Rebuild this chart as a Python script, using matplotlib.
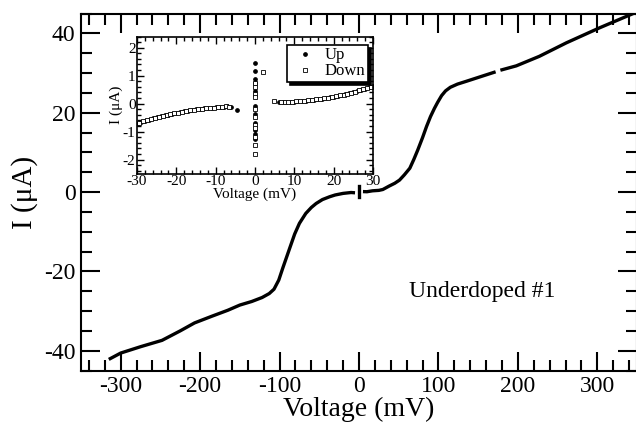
import matplotlib
matplotlib.use("Agg")
import matplotlib.pyplot as plt
from matplotlib.ticker import MultipleLocator
import numpy as np

plt.rcParams['font.family'] = ['Liberation Serif', 'DejaVu Serif']
plt.rcParams['axes.unicode_minus'] = False

# main I-V curve (mV, uA)
v_neg = [-315, -300, -275, -248, -225, -207, -185, -165, -150, -135, -122, -113, -107,
         -101, -96, -88, -81, -75, -67, -60, -54, -46, -37, -30, -20, -10, -5]
i_neg = [-42.2, -40.6, -39.0, -37.4, -35.0, -33.0, -31.3, -29.8, -28.5, -27.6, -26.6, -25.6, -24.5,
         -22.2, -19.2, -14.6, -10.6, -7.9, -5.4, -3.9, -2.9, -1.9, -1.2, -0.75, -0.35, -0.13, -0.2]
v_pos = [5, 10, 17, 25, 30, 38, 45, 51, 57, 64, 69, 74, 80, 85, 90, 95, 99,
         104, 109, 115, 124, 135, 155, 172, np.nan, 178, 198, 227, 261, 303, 350]
i_pos = [0.1, 0.07, 0.3, 0.41, 0.63, 1.5, 2.2, 3.0, 4.3, 6.0, 8.2, 10.6, 13.7, 16.5, 19.0, 21.1, 22.6,
         24.3, 25.5, 26.4, 27.2, 27.9, 29.2, 30.3, np.nan, 30.7, 31.8, 34.2, 37.6, 41.4, 45.4]

# inset data (zoom around zero bias)
up_v_neg = [-30, -29, -28, -27, -26, -25, -24, -23, -22, -21, -20, -19, -18, -17, -16,
            -15, -14, -13, -12, -11, -10, -9, -8, -7, -6, -4.6]
up_i_neg = [-0.72, -0.66, -0.61, -0.57, -0.52, -0.48, -0.45, -0.42, -0.39, -0.36, -0.33,
            -0.31, -0.28, -0.26, -0.23, -0.21, -0.19, -0.17, -0.16, -0.14, -0.13, -0.12,
            -0.11, -0.10, -0.12, -0.22]
dn_v_neg = [-29.5, -28.5, -27.5, -26.5, -25.5, -24.5, -23.5, -22.5, -21.5, -20.5, -19.5,
            -18.5, -17.5, -16.5, -15.5, -14.5, -13.5, -12.5, -11.5, -10.5, -9.5, -8.5, -7.5, -6.5]
dn_i_neg = [-0.70, -0.64, -0.59, -0.55, -0.50, -0.47, -0.43, -0.40, -0.37, -0.35, -0.32,
            -0.30, -0.27, -0.24, -0.22, -0.20, -0.18, -0.17, -0.15, -0.14, -0.13, -0.11, -0.10, -0.11]
up_v_pos = [6, 7, 8, 9, 10, 11, 12, 13, 14, 15, 16, 17, 18, 19, 20, 21, 22, 23, 24,
            25, 26, 27, 28, 29, 30]
up_i_pos = [0.04, 0.05, 0.05, 0.06, 0.07, 0.08, 0.10, 0.11, 0.13, 0.14, 0.16, 0.18, 0.20,
            0.22, 0.25, 0.28, 0.31, 0.34, 0.38, 0.41, 0.45, 0.49, 0.53, 0.58, 0.63]
dn_v_pos = [4.8, 6.5, 7.5, 8.5, 9.5, 10.5, 11.5, 12.5, 13.5, 14.5, 15.5, 16.5, 17.5, 18.5,
            19.5, 20.5, 21.5, 22.5, 23.5, 24.5, 25.5, 26.5, 27.5, 28.5, 29.5]
dn_i_pos = [0.10, 0.06, 0.05, 0.06, 0.07, 0.08, 0.09, 0.10, 0.12, 0.13, 0.15, 0.17, 0.19,
            0.21, 0.23, 0.26, 0.29, 0.32, 0.36, 0.39, 0.43, 0.47, 0.51, 0.55, 0.60]
up_v_zero = [0, 0, 0, 0, 0, 0, 0, 0, 0, 0, 0]
up_i_zero = [1.47, 1.15, 0.88, 0.72, 0.45, -0.07, -0.38, -0.68, -0.95, -1.1, -1.25]
dn_v_zero = [0, 0, 0, 0, 0, 0, 0, 0, 0, 0, 0, 2]
dn_i_zero = [0.72, 0.58, 0.35, 0.22, -0.19, -0.48, -0.75, -0.89, -1.19, -1.48, -1.81, 1.14]

fig = plt.figure(figsize=(6.36, 4.24), dpi=100)
ax = fig.add_axes([81 / 636, 1 - 370.5 / 424, 556 / 636, 357 / 424])

ax.plot(v_neg, i_neg, color='black', lw=2.4, solid_capstyle='butt', solid_joinstyle='round')
ax.plot(v_pos, i_pos, color='black', lw=2.4, solid_capstyle='butt', solid_joinstyle='round')
ax.plot(up_v_zero, up_i_zero, color='black', lw=2.4)

ax.set_xlim(-350, 350)
ax.set_ylim(-45, 45)
ax.xaxis.set_major_locator(MultipleLocator(100))
ax.xaxis.set_minor_locator(MultipleLocator(20))
ax.yaxis.set_major_locator(MultipleLocator(20))
ax.yaxis.set_minor_locator(MultipleLocator(5))
ax.tick_params(which='both', direction='in', top=True, right=True, width=1.5)
ax.tick_params(which='major', length=13.5, labelsize=17, pad=4)
ax.tick_params(which='minor', length=8)
for s in ax.spines.values():
    s.set_linewidth(1.5)
ax.set_xlabel('Voltage (mV)', fontsize=20, labelpad=0)
ax.set_ylabel('I (\u03bcA)', fontsize=21, labelpad=4)
ax.text(155, -25, 'Underdoped #1', fontsize=17, ha='center', va='center')

# inset
ins = fig.add_axes([137 / 636, 1 - 173.5 / 424, 236 / 636, 137 / 424])
ins.plot(up_v_neg + up_v_pos + up_v_zero, up_i_neg + up_i_pos + up_i_zero,
         ls='none', marker='o', ms=2.4, color='black', label='Up')
ins.plot(dn_v_neg + dn_v_pos + dn_v_zero, dn_i_neg + dn_i_pos + dn_i_zero,
         ls='none', marker='s', ms=3, mfc='white', mec='black', mew=0.6, label='Down')
ins.set_xlim(-30, 30)
ins.set_ylim(-2.5, 2.4)
ins.xaxis.set_major_locator(MultipleLocator(10))
ins.xaxis.set_minor_locator(MultipleLocator(2))
ins.yaxis.set_major_locator(MultipleLocator(1))
ins.yaxis.set_minor_locator(MultipleLocator(0.2))
ins.tick_params(which='both', direction='in', top=True, right=True, width=1)
ins.tick_params(which='major', length=5, labelsize=11, pad=1)
ins.tick_params(which='minor', length=3)
for s in ins.spines.values():
    s.set_linewidth(1.2)
ins.set_xlabel('Voltage (mV)', fontsize=11, labelpad=0)
ins.set_ylabel('I (\u03bcA)', fontsize=11, labelpad=0)
leg = ins.legend(loc='upper right', bbox_to_anchor=(0.979, 0.938), borderaxespad=0,
                 fontsize=12, frameon=True, fancybox=False, edgecolor='black',
                 framealpha=1, shadow={'color': 'black', 'alpha': 1},
                 handlelength=1.8, handletextpad=0.3, borderpad=0.15, labelspacing=0.0)
leg.get_frame().set_linewidth(1.2)

fig.savefig('out.png', dpi=100)
